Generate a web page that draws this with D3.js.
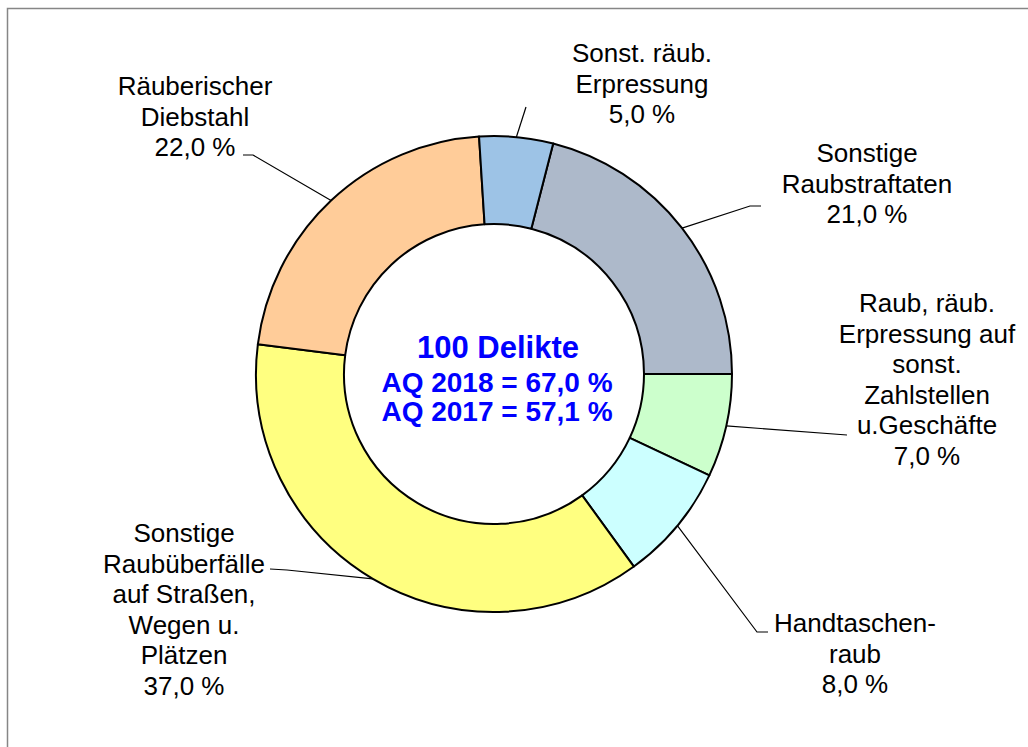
<!DOCTYPE html>
<html>
<head>
<meta charset="utf-8">
<script src="https://cdn.jsdelivr.net/npm/d3@7"></script>
<style>
  html, body { margin: 0; padding: 0; background: #ffffff; }
  svg { display: block; }
</style>
</head>
<body>
<svg id="chart" width="1028" height="747"></svg>
<script>
// ---- data ----
const categories = [
  ["Sonstige", "Raubstraftaten"],
  ["Raub, räub.", "Erpressung auf", "sonst.", "Zahlstellen", "u.Geschäfte"],
  ["Handtaschen-", "raub"],
  ["Sonstige", "Raubüberfälle", "auf Straßen,", "Wegen u.", "Plätzen"],
  ["Räuberischer", "Diebstahl"],
  ["Sonst. räub.", "Erpressung"]
];
const values = [21.0, 7.0, 8.0, 37.0, 22.0, 5.0];
const colors = ["#ADB9CA", "#CCFFCC", "#CCFFFF", "#FFFF80", "#FFCC99", "#9DC3E6"];
const centerLines = ["100 Delikte", "AQ 2018 = 67,0 %", "AQ 2017 = 57,1 %"];

// ---- layout (label placement, leader line knees) ----
const labelLayout = [
  { x: 867, y: 162, pts: [[750, 206], [761, 206]] },
  { x: 927, y: 312, pts: [[847, 435]] },
  { x: 855, y: 632, pts: [[757, 632], [768, 632]] },
  { x: 184, y: 542, pts: [[287, 570], [270, 569]] },
  { x: 195, y: 95,  pts: [[253, 155], [243, 155]] },
  { x: 642, y: 62,  pts: [[526, 107]] }
];

const svg = d3.select("#chart");
const cx = 494, cy = 374, rOuter = 238, rInner = 150;
const lineH = 30.5;
const startDeg = 14.4;

// frame
svg.append("rect")
  .attr("x", 7.5).attr("y", 8.5)
  .attr("width", 1100).attr("height", 800)
  .attr("fill", "none").attr("stroke", "#868686").attr("stroke-width", 1.5);

const pie = d3.pie().sort(null).value(d => d)
  .startAngle(startDeg * Math.PI / 180)
  .endAngle(startDeg * Math.PI / 180 + 2 * Math.PI);
const arcs = pie(values);
const arc = d3.arc().innerRadius(rInner).outerRadius(rOuter);

const g = svg.append("g").attr("transform", `translate(${cx},${cy})`);
g.selectAll("path.slice").data(arcs).enter().append("path")
  .attr("class", "slice")
  .attr("d", arc)
  .attr("fill", (d, i) => colors[i])
  .attr("stroke", "#000").attr("stroke-width", 2).attr("stroke-linejoin", "round");

// leader lines
const fmt = v => v.toFixed(1).replace(".", ",") + " %";
arcs.forEach((d, i) => {
  const a = (d.startAngle + d.endAngle) / 2;
  const sx = cx + rOuter * Math.sin(a);
  const sy = cy - rOuter * Math.cos(a);
  const pts = [[sx, sy]].concat(labelLayout[i].pts);
  svg.append("path")
    .attr("d", d3.line()(pts))
    .attr("fill", "none").attr("stroke", "#000").attr("stroke-width", 1.2);
});

// labels
arcs.forEach((d, i) => {
  const L = labelLayout[i];
  const lines = categories[i].concat([fmt(values[i])]);
  const t = svg.append("text")
    .attr("text-anchor", "middle")
    .attr("font-family", "'Liberation Sans', Arial, sans-serif")
    .attr("font-size", 26).attr("fill", "#000");
  lines.forEach((s, k) => {
    t.append("tspan").attr("x", L.x).attr("y", L.y + k * lineH).text(s);
  });
});

// center text
const ct = svg.append("text")
  .attr("text-anchor", "middle")
  .attr("font-family", "'Liberation Sans', Arial, sans-serif")
  .attr("font-weight", "bold").attr("fill", "#0000FF");
ct.append("tspan").attr("x", 498).attr("y", 358).attr("font-size", 31).text(centerLines[0]);
ct.append("tspan").attr("x", 497).attr("y", 392).attr("font-size", 28).text(centerLines[1]);
ct.append("tspan").attr("x", 497).attr("y", 421).attr("font-size", 28).text(centerLines[2]);
</script>
</body>
</html>
